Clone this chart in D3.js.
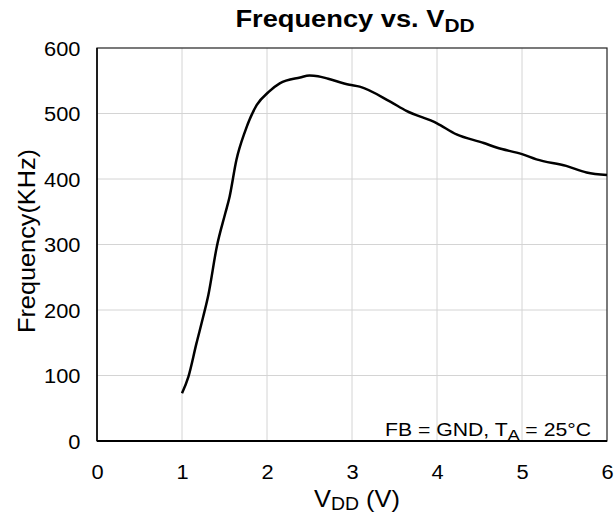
<!DOCTYPE html>
<html>
<head>
<meta charset="utf-8">
<script src="https://cdn.jsdelivr.net/npm/d3@7"></script>
<style>
  body { margin: 0; background: #fff; }
  text { font-family: "Liberation Sans", Arial, sans-serif; fill: #000; }
</style>
</head>
<body>
<main></main>
<script>
// VDD (V) and frequency (kHz)
const vdd = [1.0, 1.075, 1.17, 1.25, 1.31, 1.41, 1.51, 1.56, 1.64, 1.74, 1.88, 2.02, 2.15, 2.39, 2.5, 2.6, 2.72, 2.97, 3.09, 3.45, 3.64, 4.0, 4.23, 4.55, 4.7, 5.0, 5.17, 5.52, 5.76, 6.0]
const freq = [73, 98, 149, 190, 223, 297, 348, 373, 429, 472, 513, 533, 546, 555, 558, 557, 553, 544, 541, 518, 504, 485, 468, 455, 448, 438, 430, 420, 410, 406]
const xTicks = [0, 1, 2, 3, 4, 5, 6]
const yTicks = [0, 100, 200, 300, 400, 500, 600]

const width = 616, height = 513
const margin = { top: 48, right: 9, bottom: 72, left: 97 }
const font = '"Liberation Sans", Arial, sans-serif'
const sx = 1.12 // text in the picture is a bit wider than tall

let svg = d3.select("main").append("svg")
    .attr("width", width)
    .attr("height", height)

let x = d3.scaleLinear().domain([0, 6]).range([margin.left, width - margin.right])
let y = d3.scaleLinear().domain([0, 600]).range([height - margin.bottom, margin.top])

// grid
svg.append("g")
    .selectAll("line")
    .data(xTicks.slice(1, -1))
    .enter().append("line")
    .attr("x1", d => x(d)).attr("x2", d => x(d))
    .attr("y1", y(0)).attr("y2", y(600))
    .attr("stroke", "#d4d4d4").attr("stroke-width", 1)

svg.append("g")
    .selectAll("line")
    .data(yTicks.slice(1, -1))
    .enter().append("line")
    .attr("x1", x(0)).attr("x2", x(6))
    .attr("y1", d => y(d)).attr("y2", d => y(d))
    .attr("stroke", "#d4d4d4").attr("stroke-width", 1)

// axes (labels only, no tick marks)
let xAxis = svg.append("g")
    .attr("transform", `translate(0,${y(0)})`)
    .call(d3.axisBottom(x).tickValues(xTicks).tickFormat(d3.format("d")).tickSize(0).tickPadding(24))
let yAxis = svg.append("g")
    .attr("transform", `translate(${x(0)},0)`)
    .call(d3.axisLeft(y).tickValues(yTicks).tickFormat(d3.format("d")).tickSize(0))
for (let a of [xAxis, yAxis]) {
    a.select(".domain").remove()
    a.attr("font-size", null).attr("font-family", null)
    a.selectAll("text")
        .attr("fill", "#000")
        .style("font-size", "19.5px")
        .style("font-family", font)
}
xAxis.selectAll("text").attr("transform", `scale(${sx},1)`)
yAxis.selectAll("text")
    .attr("x", -16.5 / sx)
    .attr("dy", "0.36em")
    .attr("transform", `scale(${sx},1)`)

// frame
svg.append("rect")
    .attr("x", x(0)).attr("y", y(600))
    .attr("width", x(6) - x(0)).attr("height", y(0) - y(600))
    .attr("fill", "none").attr("stroke", "#222").attr("stroke-width", 1.2)
svg.append("line")
    .attr("x1", x(0)).attr("x2", x(6))
    .attr("y1", y(0)).attr("y2", y(0))
    .attr("stroke", "#000").attr("stroke-width", 2)
svg.append("line")
    .attr("x1", x(0)).attr("x2", x(0))
    .attr("y1", y(0)).attr("y2", y(600))
    .attr("stroke", "#000").attr("stroke-width", 1.5)

// curve
let pts = vdd.map((v, i) => [v, freq[i]])
svg.append("path")
    .datum(pts)
    .attr("fill", "none")
    .attr("stroke", "#000")
    .attr("stroke-width", 2.5)
    .attr("stroke-linejoin", "round")
    .attr("d", d3.line().x(d => x(d[0])).y(d => y(d[1])).curve(d3.curveMonotoneX))

// title
let title = svg.append("text")
    .attr("transform", `translate(355,27) scale(1.16,1)`)
    .attr("text-anchor", "middle")
    .style("font-size", "23.5px").style("font-weight", "bold")
title.append("tspan").text("Frequency vs. V")
title.append("tspan").attr("dy", 5).style("font-size", "18px").text("DD")

// x axis title
let xt = svg.append("text")
    .attr("transform", `translate(357,507) scale(1.08,1)`)
    .attr("text-anchor", "middle")
    .style("font-size", "23.5px")
xt.append("tspan").text("V")
xt.append("tspan").attr("dy", 3).style("font-size", "18px").text("DD")
xt.append("tspan").attr("dy", -3).text(" (V)")

// y axis title
svg.append("text")
    .attr("transform", `translate(35,241) rotate(-90) scale(1.1,1)`)
    .attr("text-anchor", "middle")
    .style("font-size", "23px")
    .text("Frequency(KHz)")

// condition note
let note = svg.append("text")
    .attr("transform", `translate(591,436) scale(1.14,1)`)
    .attr("text-anchor", "end")
    .style("font-size", "18.6px")
note.append("tspan").text("FB = GND, T")
note.append("tspan").attr("dy", 4).style("font-size", "15.5px").text("A")
note.append("tspan").attr("dy", -4).text(" = 25°C")
</script>
</body>
</html>
